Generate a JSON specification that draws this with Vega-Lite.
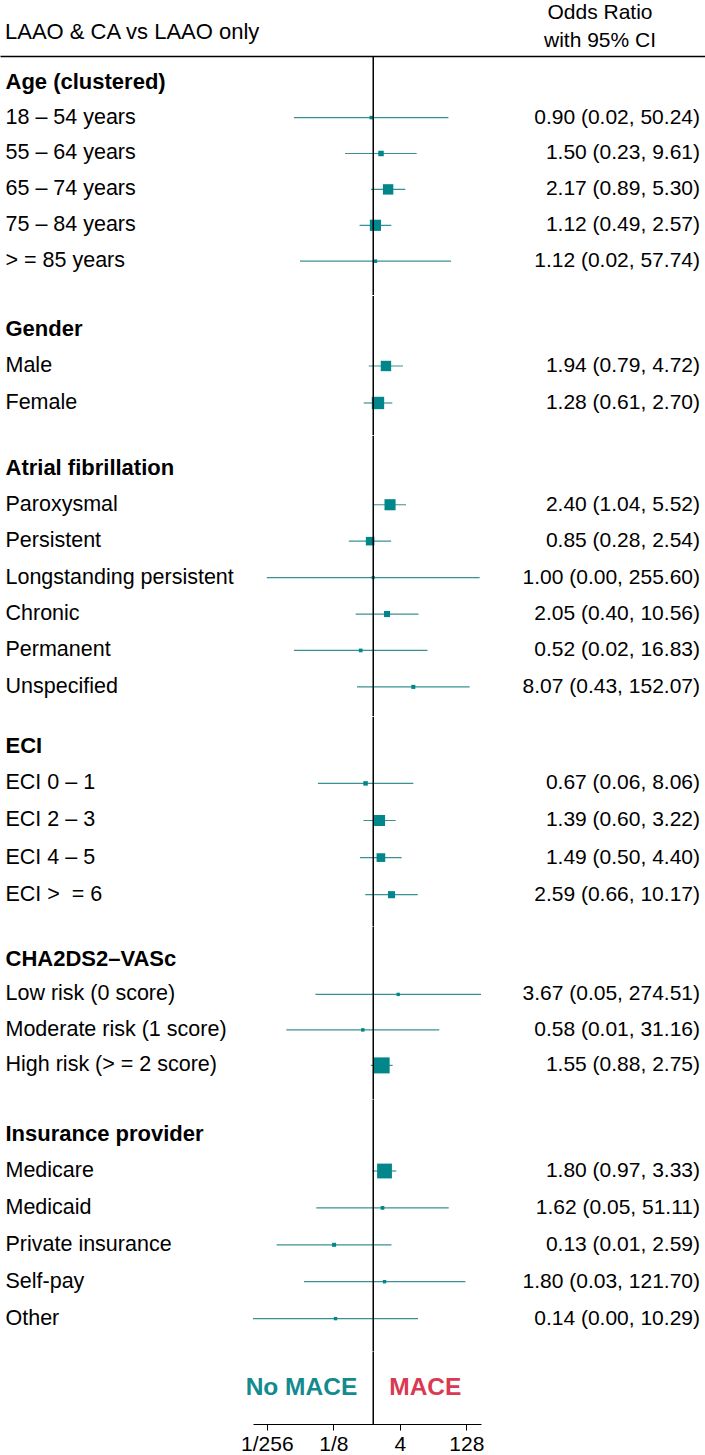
{
  "$schema": "https://vega.github.io/schema/vega-lite/v6.json",
  "padding": 0,
  "spacing": 0,
  "bounds": "flush",
  "background": "white",
  "config": {"view": {"stroke": null}, "font": "Liberation Sans", "concat": {"spacing": 0}},
  "datasets": {
    "rows": [
      {"section": "age", "label": "Age (clustered)", "ortext": ""},
      {"section": "age", "label": "18 – 54 years", "or": 0.90, "lo": 0.016, "hi": 50.24, "weight": 0.237, "ortext": "0.90 (0.02, 50.24)"},
      {"section": "age", "label": "55 – 64 years", "or": 1.50, "lo": 0.23, "hi": 9.61, "weight": 1.103, "ortext": "1.50 (0.23, 9.61)"},
      {"section": "age", "label": "65 – 74 years", "or": 2.17, "lo": 0.89, "hi": 5.30, "weight": 4.827, "ortext": "2.17 (0.89, 5.30)"},
      {"section": "age", "label": "75 – 84 years", "or": 1.12, "lo": 0.49, "hi": 2.57, "weight": 5.597, "ortext": "1.12 (0.49, 2.57)"},
      {"section": "age", "label": "> = 85 years", "or": 1.12, "lo": 0.022, "hi": 57.74, "weight": 0.248, "ortext": "1.12 (0.02, 57.74)"},
      {"section": "gender", "label": "Gender", "ortext": ""},
      {"section": "gender", "label": "Male", "or": 1.94, "lo": 0.79, "hi": 4.72, "weight": 4.809, "ortext": "1.94 (0.79, 4.72)"},
      {"section": "gender", "label": "Female", "or": 1.28, "lo": 0.61, "hi": 2.70, "weight": 6.944, "ortext": "1.28 (0.61, 2.70)"},
      {"section": "af", "label": "Atrial fibrillation", "ortext": ""},
      {"section": "af", "label": "Paroxysmal", "or": 2.40, "lo": 1.04, "hi": 5.52, "weight": 5.515, "ortext": "2.40 (1.04, 5.52)"},
      {"section": "af", "label": "Persistent", "or": 0.85, "lo": 0.28, "hi": 2.54, "weight": 3.160, "ortext": "0.85 (0.28, 2.54)"},
      {"section": "af", "label": "Longstanding persistent", "or": 1.00, "lo": 0.0039, "hi": 255.60, "weight": 0.125, "ortext": "1.00 (0.00, 255.60)"},
      {"section": "af", "label": "Chronic", "or": 2.05, "lo": 0.40, "hi": 10.56, "weight": 1.434, "ortext": "2.05 (0.40, 10.56)"},
      {"section": "af", "label": "Permanent", "or": 0.52, "lo": 0.016, "hi": 16.83, "weight": 0.317, "ortext": "0.52 (0.02, 16.83)"},
      {"section": "af", "label": "Unspecified", "or": 8.07, "lo": 0.43, "hi": 152.07, "weight": 0.446, "ortext": "8.07 (0.43, 152.07)"},
      {"section": "eci", "label": "ECI", "ortext": ""},
      {"section": "eci", "label": "ECI 0 – 1", "or": 0.67, "lo": 0.056, "hi": 8.06, "weight": 0.621, "ortext": "0.67 (0.06, 8.06)"},
      {"section": "eci", "label": "ECI 2 – 3", "or": 1.39, "lo": 0.60, "hi": 3.22, "weight": 5.443, "ortext": "1.39 (0.60, 3.22)"},
      {"section": "eci", "label": "ECI 4 – 5", "or": 1.49, "lo": 0.50, "hi": 4.40, "weight": 3.249, "ortext": "1.49 (0.50, 4.40)"},
      {"section": "eci", "label": "ECI > \u00a0= 6", "or": 2.59, "lo": 0.66, "hi": 10.17, "weight": 2.054, "ortext": "2.59 (0.66, 10.17)"},
      {"section": "cha", "label": "CHA2DS2–VASc", "ortext": ""},
      {"section": "cha", "label": "Low risk (0 score)", "or": 3.67, "lo": 0.049, "hi": 274.51, "weight": 0.206, "ortext": "3.67 (0.05, 274.51)"},
      {"section": "cha", "label": "Moderate risk (1 score)", "or": 0.58, "lo": 0.0108, "hi": 31.16, "weight": 0.242, "ortext": "0.58 (0.01, 31.16)"},
      {"section": "cha", "label": "High risk (> = 2 score)", "or": 1.55, "lo": 0.88, "hi": 2.75, "weight": 11.84, "ortext": "1.55 (0.88, 2.75)"},
      {"section": "ins", "label": "Insurance provider", "ortext": ""},
      {"section": "ins", "label": "Medicare", "or": 1.80, "lo": 0.97, "hi": 3.33, "weight": 10.10, "ortext": "1.80 (0.97, 3.33)"},
      {"section": "ins", "label": "Medicaid", "or": 1.62, "lo": 0.0513, "hi": 51.11, "weight": 0.322, "ortext": "1.62 (0.05, 51.11)"},
      {"section": "ins", "label": "Private insurance", "or": 0.13, "lo": 0.0065, "hi": 2.59, "weight": 0.429, "ortext": "0.13 (0.01, 2.59)"},
      {"section": "ins", "label": "Self-pay", "or": 1.80, "lo": 0.027, "hi": 121.70, "weight": 0.217, "ortext": "1.80 (0.03, 121.70)"},
      {"section": "ins", "label": "Other", "or": 0.14, "lo": 0.0019, "hi": 10.29, "weight": 0.208, "ortext": "0.14 (0.00, 10.29)"}
    ]
  },
  "data": {"name": "rows"},
  "resolve": {"scale": {"x": "independent", "y": "independent", "size": "independent"}},
  "vconcat": [
    {
      "width": 705, "height": 56,
      "data": {"values": [{"t": "LAAO & CA vs LAAO only", "c": "l"}, {"t": "Odds Ratio", "c": "r1"}, {"t": "with 95% CI", "c": "r2"}]},
      "layer": [
        {"transform": [{"filter": "datum.c == 'l'"}], "mark": {"type": "text", "align": "left", "baseline": "middle", "font": "Liberation Sans", "fontSize": 22, "color": "black"},
         "encoding": {"x": {"value": 5}, "y": {"value": 32}, "text": {"field": "t"}}},
        {"transform": [{"filter": "datum.c == 'r1'"}], "mark": {"type": "text", "align": "center", "baseline": "middle", "font": "Liberation Sans", "fontSize": 21, "color": "black"},
         "encoding": {"x": {"value": 600}, "y": {"value": 13}, "text": {"field": "t"}}},
        {"transform": [{"filter": "datum.c == 'r2'"}], "mark": {"type": "text", "align": "center", "baseline": "middle", "font": "Liberation Sans", "fontSize": 21, "color": "black"},
         "encoding": {"x": {"value": 600}, "y": {"value": 41}, "text": {"field": "t"}}}
      ]
    },
    {
      "width": 705, "height": {"step": 35.9},
      "transform": [{"filter": "datum.section == 'age'"}],
      "layer": [
        {"mark": {"type": "text", "align": "right", "baseline": "middle", "font": "Liberation Sans", "fontSize": 21, "color": "black"},
         "encoding": {
           "y": {"field": "label", "type": "nominal", "sort": null, "scale": {"type": "band", "paddingInner": 0, "paddingOuter": 0.3287, "align": 0.328},
                 "axis": {"orient": "left", "title": null, "domain": false, "ticks": false, "tickSize": 0, "grid": false, "labelAlign": "left", "labelPadding": -5, "labelFont": "Liberation Sans", "labelColor": "black", "labelLimit": 500,
                          "labelFontSize": {"condition": {"test": "datum.value == 'Age (clustered)'", "value": 22}, "value": 21.5},
                          "labelFontWeight": {"condition": {"test": "datum.value == 'Age (clustered)'", "value": "bold"}, "value": "normal"}}},
           "x": {"value": 700}, "text": {"field": "ortext"}}},
        {"mark": {"type": "rule", "color": "#3a9191", "strokeWidth": 1.2},
         "encoding": {
           "y": {"field": "label", "type": "nominal", "sort": null, "scale": {"type": "band", "paddingInner": 0, "paddingOuter": 0.3287, "align": 0.328}},
           "x": {"field": "lo", "type": "quantitative", "scale": {"type": "log", "base": 2, "domain": [3.574e-9, 3.2209e7], "nice": false},
                 "axis": {"orient": "top", "title": null, "labels": false, "ticks": false, "grid": false, "domain": true, "domainColor": "black", "domainWidth": 1.3}},
           "x2": {"field": "hi"}}},
        {"mark": {"type": "point", "shape": "square", "filled": true, "opacity": 1, "color": "#00868b", "strokeWidth": 0},
         "encoding": {
           "y": {"field": "label", "type": "nominal", "sort": null, "scale": {"type": "band", "paddingInner": 0, "paddingOuter": 0.3287, "align": 0.328}},
           "x": {"field": "or", "type": "quantitative", "scale": {"type": "log", "base": 2, "domain": [3.574e-9, 3.2209e7], "nice": false},
                 "axis": {"orient": "top", "title": null, "labels": false, "ticks": false, "grid": false, "domain": true, "domainColor": "black", "domainWidth": 1.3}},
           "size": {"field": "weight", "type": "quantitative", "scale": {"domain": [0, 11.84], "range": [7, 256]}, "legend": null}}},
        {"data": {"values": [{}]}, "mark": {"type": "rule", "color": "black", "strokeWidth": 1.5},
         "encoding": {"x": {"datum": 1, "type": "quantitative", "scale": {"type": "log", "base": 2, "domain": [3.574e-9, 3.2209e7], "nice": false},
                 "axis": {"orient": "top", "title": null, "labels": false, "ticks": false, "grid": false, "domain": true, "domainColor": "black", "domainWidth": 1.3}}}}
      ]
    },
    {
      "width": 705, "height": {"step": 37},
      "transform": [{"filter": "datum.section == 'gender'"}],
      "layer": [
        {"mark": {"type": "text", "align": "right", "baseline": "middle", "font": "Liberation Sans", "fontSize": 21, "color": "black"},
         "encoding": {
           "y": {"field": "label", "type": "nominal", "sort": null, "scale": {"type": "band", "paddingInner": 0, "paddingOuter": 0.3824, "align": 0.512},
                 "axis": {"orient": "left", "title": null, "domain": false, "ticks": false, "tickSize": 0, "grid": false, "labelAlign": "left", "labelPadding": -5, "labelFont": "Liberation Sans", "labelColor": "black", "labelLimit": 500,
                          "labelFontSize": {"condition": {"test": "datum.value == 'Gender'", "value": 22}, "value": 21.5},
                          "labelFontWeight": {"condition": {"test": "datum.value == 'Gender'", "value": "bold"}, "value": "normal"}}},
           "x": {"value": 700}, "text": {"field": "ortext"}}},
        {"mark": {"type": "rule", "color": "#3a9191", "strokeWidth": 1.2},
         "encoding": {
           "y": {"field": "label", "type": "nominal", "sort": null, "scale": {"type": "band", "paddingInner": 0, "paddingOuter": 0.3824, "align": 0.512}},
           "x": {"field": "lo", "type": "quantitative", "scale": {"type": "log", "base": 2, "domain": [3.574e-9, 3.2209e7], "nice": false}, "axis": null},
           "x2": {"field": "hi"}}},
        {"mark": {"type": "point", "shape": "square", "filled": true, "opacity": 1, "color": "#00868b", "strokeWidth": 0},
         "encoding": {
           "y": {"field": "label", "type": "nominal", "sort": null, "scale": {"type": "band", "paddingInner": 0, "paddingOuter": 0.3824, "align": 0.512}},
           "x": {"field": "or", "type": "quantitative", "scale": {"type": "log", "base": 2, "domain": [3.574e-9, 3.2209e7], "nice": false}, "axis": null},
           "size": {"field": "weight", "type": "quantitative", "scale": {"domain": [0, 11.84], "range": [7, 256]}, "legend": null}}},
        {"data": {"values": [{}]}, "mark": {"type": "rule", "color": "black", "strokeWidth": 1.5},
         "encoding": {"x": {"datum": 1, "type": "quantitative", "scale": {"type": "log", "base": 2, "domain": [3.574e-9, 3.2209e7], "nice": false}, "axis": null}}}
      ]
    },
    {
      "width": 705, "height": {"step": 36.43},
      "transform": [{"filter": "datum.section == 'af'"}],
      "layer": [
        {"mark": {"type": "text", "align": "right", "baseline": "middle", "font": "Liberation Sans", "fontSize": 21, "color": "black"},
         "encoding": {
           "y": {"field": "label", "type": "nominal", "sort": null, "scale": {"type": "band", "paddingInner": 0, "paddingOuter": 0.3472, "align": 0.557},
                 "axis": {"orient": "left", "title": null, "domain": false, "ticks": false, "tickSize": 0, "grid": false, "labelAlign": "left", "labelPadding": -5, "labelFont": "Liberation Sans", "labelColor": "black", "labelLimit": 500,
                          "labelFontSize": {"condition": {"test": "datum.value == 'Atrial fibrillation'", "value": 22}, "value": 21.5},
                          "labelFontWeight": {"condition": {"test": "datum.value == 'Atrial fibrillation'", "value": "bold"}, "value": "normal"}}},
           "x": {"value": 700}, "text": {"field": "ortext"}}},
        {"mark": {"type": "rule", "color": "#3a9191", "strokeWidth": 1.2},
         "encoding": {
           "y": {"field": "label", "type": "nominal", "sort": null, "scale": {"type": "band", "paddingInner": 0, "paddingOuter": 0.3472, "align": 0.557}},
           "x": {"field": "lo", "type": "quantitative", "scale": {"type": "log", "base": 2, "domain": [3.574e-9, 3.2209e7], "nice": false}, "axis": null},
           "x2": {"field": "hi"}}},
        {"mark": {"type": "point", "shape": "square", "filled": true, "opacity": 1, "color": "#00868b", "strokeWidth": 0},
         "encoding": {
           "y": {"field": "label", "type": "nominal", "sort": null, "scale": {"type": "band", "paddingInner": 0, "paddingOuter": 0.3472, "align": 0.557}},
           "x": {"field": "or", "type": "quantitative", "scale": {"type": "log", "base": 2, "domain": [3.574e-9, 3.2209e7], "nice": false}, "axis": null},
           "size": {"field": "weight", "type": "quantitative", "scale": {"domain": [0, 11.84], "range": [7, 256]}, "legend": null}}},
        {"data": {"values": [{}]}, "mark": {"type": "rule", "color": "black", "strokeWidth": 1.5},
         "encoding": {"x": {"datum": 1, "type": "quantitative", "scale": {"type": "log", "base": 2, "domain": [3.574e-9, 3.2209e7], "nice": false}, "axis": null}}}
      ]
    },
    {
      "width": 705, "height": {"step": 37.1},
      "transform": [{"filter": "datum.section == 'eci'"}],
      "layer": [
        {"mark": {"type": "text", "align": "right", "baseline": "middle", "font": "Liberation Sans", "fontSize": 21, "color": "black"},
         "encoding": {
           "y": {"field": "label", "type": "nominal", "sort": null, "scale": {"type": "band", "paddingInner": 0, "paddingOuter": 0.3248, "align": 0.446},
                 "axis": {"orient": "left", "title": null, "domain": false, "ticks": false, "tickSize": 0, "grid": false, "labelAlign": "left", "labelPadding": -5, "labelFont": "Liberation Sans", "labelColor": "black", "labelLimit": 500,
                          "labelFontSize": {"condition": {"test": "datum.value == 'ECI'", "value": 22}, "value": 21.5},
                          "labelFontWeight": {"condition": {"test": "datum.value == 'ECI'", "value": "bold"}, "value": "normal"}}},
           "x": {"value": 700}, "text": {"field": "ortext"}}},
        {"mark": {"type": "rule", "color": "#3a9191", "strokeWidth": 1.2},
         "encoding": {
           "y": {"field": "label", "type": "nominal", "sort": null, "scale": {"type": "band", "paddingInner": 0, "paddingOuter": 0.3248, "align": 0.446}},
           "x": {"field": "lo", "type": "quantitative", "scale": {"type": "log", "base": 2, "domain": [3.574e-9, 3.2209e7], "nice": false}, "axis": null},
           "x2": {"field": "hi"}}},
        {"mark": {"type": "point", "shape": "square", "filled": true, "opacity": 1, "color": "#00868b", "strokeWidth": 0},
         "encoding": {
           "y": {"field": "label", "type": "nominal", "sort": null, "scale": {"type": "band", "paddingInner": 0, "paddingOuter": 0.3248, "align": 0.446}},
           "x": {"field": "or", "type": "quantitative", "scale": {"type": "log", "base": 2, "domain": [3.574e-9, 3.2209e7], "nice": false}, "axis": null},
           "size": {"field": "weight", "type": "quantitative", "scale": {"domain": [0, 11.84], "range": [7, 256]}, "legend": null}}},
        {"data": {"values": [{}]}, "mark": {"type": "rule", "color": "black", "strokeWidth": 1.5},
         "encoding": {"x": {"datum": 1, "type": "quantitative", "scale": {"type": "log", "base": 2, "domain": [3.574e-9, 3.2209e7], "nice": false}, "axis": null}}}
      ]
    },
    {
      "width": 705, "height": {"step": 35.5},
      "transform": [{"filter": "datum.section == 'cha'"}],
      "layer": [
        {"mark": {"type": "text", "align": "right", "baseline": "middle", "font": "Liberation Sans", "fontSize": 21, "color": "black"},
         "encoding": {
           "y": {"field": "label", "type": "nominal", "sort": null, "scale": {"type": "band", "paddingInner": 0, "paddingOuter": 0.4296, "align": 0.464},
                 "axis": {"orient": "left", "title": null, "domain": false, "ticks": false, "tickSize": 0, "grid": false, "labelAlign": "left", "labelPadding": -5, "labelFont": "Liberation Sans", "labelColor": "black", "labelLimit": 500,
                          "labelFontSize": {"condition": {"test": "datum.value == 'CHA2DS2–VASc'", "value": 22}, "value": 21.5},
                          "labelFontWeight": {"condition": {"test": "datum.value == 'CHA2DS2–VASc'", "value": "bold"}, "value": "normal"}}},
           "x": {"value": 700}, "text": {"field": "ortext"}}},
        {"mark": {"type": "rule", "color": "#3a9191", "strokeWidth": 1.2},
         "encoding": {
           "y": {"field": "label", "type": "nominal", "sort": null, "scale": {"type": "band", "paddingInner": 0, "paddingOuter": 0.4296, "align": 0.464}},
           "x": {"field": "lo", "type": "quantitative", "scale": {"type": "log", "base": 2, "domain": [3.574e-9, 3.2209e7], "nice": false}, "axis": null},
           "x2": {"field": "hi"}}},
        {"mark": {"type": "point", "shape": "square", "filled": true, "opacity": 1, "color": "#00868b", "strokeWidth": 0},
         "encoding": {
           "y": {"field": "label", "type": "nominal", "sort": null, "scale": {"type": "band", "paddingInner": 0, "paddingOuter": 0.4296, "align": 0.464}},
           "x": {"field": "or", "type": "quantitative", "scale": {"type": "log", "base": 2, "domain": [3.574e-9, 3.2209e7], "nice": false}, "axis": null},
           "size": {"field": "weight", "type": "quantitative", "scale": {"domain": [0, 11.84], "range": [7, 256]}, "legend": null}}},
        {"data": {"values": [{}]}, "mark": {"type": "rule", "color": "black", "strokeWidth": 1.5},
         "encoding": {"x": {"datum": 1, "type": "quantitative", "scale": {"type": "log", "base": 2, "domain": [3.574e-9, 3.2209e7], "nice": false}, "axis": null}}}
      ]
    },
    {
      "width": 705, "height": {"step": 36.9},
      "transform": [{"filter": "datum.section == 'ins'"}],
      "layer": [
        {"mark": {"type": "text", "align": "right", "baseline": "middle", "font": "Liberation Sans", "fontSize": 21, "color": "black"},
         "encoding": {
           "y": {"field": "label", "type": "nominal", "sort": null, "scale": {"type": "band", "paddingInner": 0, "paddingOuter": 0.4065, "align": 0.522},
                 "axis": {"orient": "left", "title": null, "domain": false, "ticks": false, "tickSize": 0, "grid": false, "labelAlign": "left", "labelPadding": -5, "labelFont": "Liberation Sans", "labelColor": "black", "labelLimit": 500,
                          "labelFontSize": {"condition": {"test": "datum.value == 'Insurance provider'", "value": 22}, "value": 21.5},
                          "labelFontWeight": {"condition": {"test": "datum.value == 'Insurance provider'", "value": "bold"}, "value": "normal"}}},
           "x": {"value": 700}, "text": {"field": "ortext"}}},
        {"mark": {"type": "rule", "color": "#3a9191", "strokeWidth": 1.2},
         "encoding": {
           "y": {"field": "label", "type": "nominal", "sort": null, "scale": {"type": "band", "paddingInner": 0, "paddingOuter": 0.4065, "align": 0.522}},
           "x": {"field": "lo", "type": "quantitative", "scale": {"type": "log", "base": 2, "domain": [3.574e-9, 3.2209e7], "nice": false}, "axis": null},
           "x2": {"field": "hi"}}},
        {"mark": {"type": "point", "shape": "square", "filled": true, "opacity": 1, "color": "#00868b", "strokeWidth": 0},
         "encoding": {
           "y": {"field": "label", "type": "nominal", "sort": null, "scale": {"type": "band", "paddingInner": 0, "paddingOuter": 0.4065, "align": 0.522}},
           "x": {"field": "or", "type": "quantitative", "scale": {"type": "log", "base": 2, "domain": [3.574e-9, 3.2209e7], "nice": false}, "axis": null},
           "size": {"field": "weight", "type": "quantitative", "scale": {"domain": [0, 11.84], "range": [7, 256]}, "legend": null}}},
        {"data": {"values": [{}]}, "mark": {"type": "rule", "color": "black", "strokeWidth": 1.5},
         "encoding": {"x": {"datum": 1, "type": "quantitative", "scale": {"type": "log", "base": 2, "domain": [3.574e-9, 3.2209e7], "nice": false}, "axis": null}}}
      ]
    },
    {
      "width": 705, "height": 72,
      "data": {"values": [{"side": "No MACE"}, {"side": "MACE"}]},
      "layer": [
        {"transform": [{"filter": "datum.side == 'No MACE'"}],
         "mark": {"type": "text", "align": "right", "baseline": "middle", "dx": -16, "font": "Liberation Sans", "fontSize": 24.5, "fontWeight": "bold", "color": "#138a8f"},
         "encoding": {"x": {"datum": 1, "type": "quantitative", "scale": {"type": "log", "base": 2, "domain": [0.0019, 274.51], "range": [253, 481], "nice": false},
               "axis": {"orient": "bottom", "values": [0.00390625, 0.125, 4, 128], "labelExpr": "datum.value < 1 ? '1/' + round(1 / datum.value) : '' + round(datum.value)", "title": null, "grid": false, "domainColor": "black", "domainWidth": 1, "tickColor": "black", "tickSize": 6, "tickWidth": 1, "labelFont": "Liberation Sans", "labelFontSize": 21, "labelColor": "black", "labelPadding": 3}},
           "text": {"field": "side"}}},
        {"transform": [{"filter": "datum.side == 'MACE'"}],
         "mark": {"type": "text", "align": "left", "baseline": "middle", "dx": 16, "font": "Liberation Sans", "fontSize": 24.5, "fontWeight": "bold", "color": "#d93a52"},
         "encoding": {"x": {"datum": 1, "type": "quantitative", "scale": {"type": "log", "base": 2, "domain": [0.0019, 274.51], "range": [253, 481], "nice": false},
               "axis": {"orient": "bottom", "values": [0.00390625, 0.125, 4, 128], "labelExpr": "datum.value < 1 ? '1/' + round(1 / datum.value) : '' + round(datum.value)", "title": null, "grid": false, "domainColor": "black", "domainWidth": 1, "tickColor": "black", "tickSize": 6, "tickWidth": 1, "labelFont": "Liberation Sans", "labelFontSize": 21, "labelColor": "black", "labelPadding": 3}},
           "text": {"field": "side"}}},
        {"data": {"values": [{}]}, "mark": {"type": "rule", "color": "black", "strokeWidth": 1.5},
         "encoding": {"x": {"datum": 1, "type": "quantitative", "scale": {"type": "log", "base": 2, "domain": [0.0019, 274.51], "range": [253, 481], "nice": false},
               "axis": {"orient": "bottom", "values": [0.00390625, 0.125, 4, 128], "labelExpr": "datum.value < 1 ? '1/' + round(1 / datum.value) : '' + round(datum.value)", "title": null, "grid": false, "domainColor": "black", "domainWidth": 1, "tickColor": "black", "tickSize": 6, "tickWidth": 1, "labelFont": "Liberation Sans", "labelFontSize": 21, "labelColor": "black", "labelPadding": 3}}}}
      ]
    }
  ]
}
